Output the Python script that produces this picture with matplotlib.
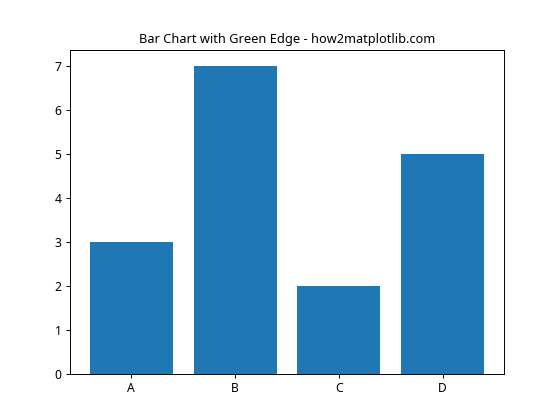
import matplotlib
matplotlib.use("Agg")
import matplotlib.pyplot as plt

plt.rcParams['font.family'] = ['Noto Sans', 'DejaVu Sans']

categories = ['A', 'B', 'C', 'D']
values = [3, 7, 2, 5]

fig, ax = plt.subplots(figsize=(6.4, 4.8), dpi=87.5)
# edge is set but with no width, as in the picture no green line shows
ax.bar(categories, values, edgecolor='green', linewidth=0)
ax.set_title('Bar Chart with Green Edge - how2matplotlib.com', fontsize=10.5)

fig.savefig('out.png')
